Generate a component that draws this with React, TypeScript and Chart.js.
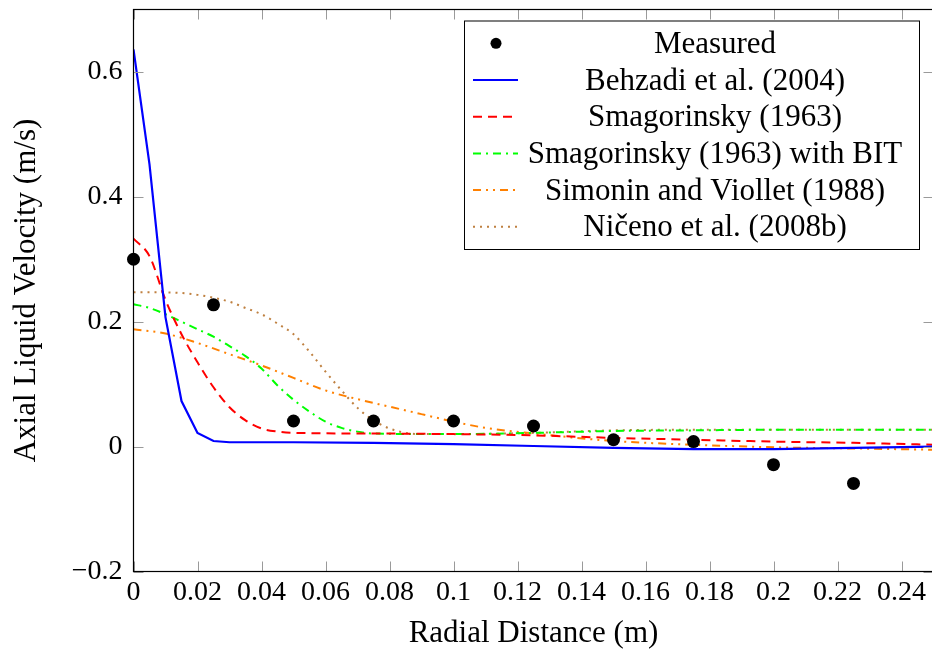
import React, { useEffect, useRef } from 'react';
import { Chart, registerables } from 'chart.js';
Chart.register(...registerables);

// ---- data ----
const measuredX = [0, 0.025, 0.05, 0.075, 0.1, 0.125, 0.15, 0.175, 0.2, 0.225];
const measuredY = [0.3, 0.227, 0.041, 0.041, 0.041, 0.033, 0.011, 0.008, -0.029, -0.059];

const behzadiX = [0, 0.005, 0.01, 0.015, 0.02, 0.025, 0.03, 0.05, 0.075, 0.1, 0.125, 0.15, 0.175, 0.2, 0.225, 0.25];
const behzadiY = [0.636, 0.452, 0.207, 0.073, 0.022, 0.009, 0.007, 0.007, 0.006, 0.004, 0.001, -0.002, -0.004, -0.004, -0.002, 0.0];

const smagX = [0, 0.005, 0.01, 0.015, 0.02, 0.025, 0.03, 0.035, 0.04, 0.045, 0.05, 0.075, 0.1, 0.125, 0.15, 0.175, 0.2, 0.225, 0.25];
const smagY = [0.333, 0.305, 0.235, 0.18, 0.135, 0.095, 0.063, 0.042, 0.029, 0.024, 0.022, 0.021, 0.02, 0.018, 0.014, 0.011, 0.008, 0.006, 0.003];

const bitX = [0, 0.005, 0.01, 0.015, 0.02, 0.025, 0.03, 0.035, 0.04, 0.045, 0.05, 0.055, 0.06, 0.065, 0.07, 0.075, 0.1, 0.125, 0.15, 0.175, 0.2, 0.225, 0.25];
const bitY = [0.228, 0.222, 0.212, 0.2, 0.188, 0.176, 0.161, 0.145, 0.125, 0.098, 0.075, 0.056, 0.04, 0.03, 0.024, 0.021, 0.02, 0.022, 0.025, 0.026, 0.027, 0.027, 0.027];

const simoninX = [0, 0.01, 0.02, 0.03, 0.04, 0.05, 0.06, 0.07, 0.08, 0.09, 0.1, 0.11, 0.125, 0.15, 0.175, 0.2, 0.225, 0.25];
const simoninY = [0.188, 0.181, 0.166, 0.148, 0.13, 0.11, 0.09, 0.076, 0.064, 0.052, 0.04, 0.03, 0.021, 0.009, 0.003, -0.001, -0.003, -0.005];

const nicenoX = [0, 0.01, 0.02, 0.03, 0.035, 0.04, 0.045, 0.05, 0.055, 0.06, 0.065, 0.07, 0.075, 0.08, 0.085, 0.09, 0.1, 0.125, 0.15, 0.175, 0.2, 0.225, 0.25];
const nicenoY = [0.247, 0.247, 0.243, 0.232, 0.222, 0.212, 0.197, 0.18, 0.152, 0.12, 0.09, 0.062, 0.042, 0.029, 0.022, 0.02, 0.02, 0.022, 0.026, 0.027, 0.027, 0.027, 0.027];

const xTickValues = [0, 0.02, 0.04, 0.06, 0.08, 0.1, 0.12, 0.14, 0.16, 0.18, 0.2, 0.22, 0.24];
const yTickValues = [-0.2, 0, 0.2, 0.4, 0.6];

const seriesLabels = [
  'Measured',
  'Behzadi et al. (2004)',
  'Smagorinsky (1963)',
  'Smagorinsky (1963) with BIT',
  'Simonin and Viollet (1988)',
  'Ničeno et al. (2008b)',
];

const xTitle = 'Radial Distance (m)';
const yTitle = 'Axial Liquid Velocity (m/s)';

// ---- styles ----
const FONT = '"Liberation Serif", "Times New Roman", serif';
const colors = ['#000000', '#0000ff', '#ff0000', '#00ff00', '#ff8000', '#bf8040'];
const dashes: number[][] = [[], [], [9, 6], [8, 5, 2, 5], [8, 5, 2, 5, 2, 5], [2, 5]];

const pts = (xs: number[], ys: number[]) => xs.map((x, i) => ({ x, y: ys[i] }));
const fmt = (v: number) => {
  const s = String(Math.round(v * 100) / 100);
  return s.replace('-', '\u2212');
};

const framePlugin = {
  id: 'frameAndLegend',
  afterDraw(chart: any) {
    const ctx = chart.ctx;
    const { left, right, top, bottom } = chart.chartArea;
    const xs = chart.scales.x;
    const ys = chart.scales.y;
    ctx.save();
    // inward ticks
    ctx.strokeStyle = '#9a9a9a';
    ctx.lineWidth = 1;
    ctx.beginPath();
    xTickValues.forEach((v) => {
      const px = Math.round(xs.getPixelForValue(v)) + 0.5;
      ctx.moveTo(px, bottom);
      ctx.lineTo(px, bottom - 10);
      ctx.moveTo(px, top);
      ctx.lineTo(px, top + 10);
    });
    yTickValues.forEach((v) => {
      const py = Math.round(ys.getPixelForValue(v)) + 0.5;
      ctx.moveTo(left, py);
      ctx.lineTo(left + 10, py);
      ctx.moveTo(right, py);
      ctx.lineTo(right - 10, py);
    });
    ctx.stroke();
    // frame
    ctx.strokeStyle = '#000';
    ctx.lineWidth = 1.2;
    ctx.strokeRect(left, top, right - left, bottom - top);

    // legend
    const bx = 464.5, by = 21, bw = 455, bh = 228.5;
    ctx.fillStyle = '#fff';
    ctx.fillRect(bx, by, bw, bh);
    ctx.strokeStyle = '#000';
    ctx.lineWidth = 1;
    ctx.strokeRect(bx, by, bw, bh);
    const rowY0 = 43.3, rowStep = 36.7;
    ctx.font = `31px ${FONT}`;
    ctx.textAlign = 'center';
    ctx.textBaseline = 'alphabetic';
    seriesLabels.forEach((lab, i) => {
      const cy = rowY0 + i * rowStep;
      if (i === 0) {
        ctx.fillStyle = '#000';
        ctx.beginPath();
        ctx.arc(496, cy, 5.5, 0, Math.PI * 2);
        ctx.fill();
      } else {
        ctx.strokeStyle = colors[i];
        ctx.lineWidth = 2;
        ctx.setLineDash(dashes[i]);
        ctx.beginPath();
        ctx.moveTo(473, cy);
        ctx.lineTo(518, cy);
        ctx.stroke();
        ctx.setLineDash([]);
      }
      ctx.fillStyle = '#000';
      ctx.fillText(lab, 715, cy + 9.5);
    });
    ctx.restore();
  },
};

export default function App() {
  const ref = useRef<HTMLCanvasElement | null>(null);
  useEffect(() => {
    if (!ref.current) return;
    const lineSeries = [
      { xs: behzadiX, ys: behzadiY },
      { xs: smagX, ys: smagY },
      { xs: bitX, ys: bitY },
      { xs: simoninX, ys: simoninY },
      { xs: nicenoX, ys: nicenoY },
    ];
    const datasets: any[] = [
      {
        label: seriesLabels[0],
        data: pts(measuredX, measuredY),
        showLine: false,
        pointRadius: 6.5,
        pointBackgroundColor: '#000',
        pointBorderWidth: 0,
        clip: false,
        order: 0,
      },
      ...lineSeries.map((s, i) => ({
        label: seriesLabels[i + 1],
        data: pts(s.xs, s.ys),
        showLine: true,
        borderColor: colors[i + 1],
        borderWidth: i === 0 ? 2.2 : 2,
        borderDash: dashes[i + 1],
        pointRadius: 0,
        fill: false,
        tension: i === 0 ? 0 : 0.3,
        cubicInterpolationMode: i === 0 ? 'default' : 'monotone',
        order: 1,
      })),
    ];
    const tickFont = { family: FONT, size: 28 };
    const titleFont = { family: FONT, size: 31 };
    const chart = new Chart(ref.current, {
      type: 'scatter',
      data: { datasets },
      options: {
        animation: false,
        responsive: false,
        devicePixelRatio: 1,
        layout: { padding: { top: 9.5, right: 4.5, left: 0, bottom: 0 } },
        plugins: { legend: { display: false }, tooltip: { enabled: false } },
        scales: {
          x: {
            type: 'linear',
            min: 0,
            max: 0.25,
            afterBuildTicks: (s: any) => {
              s.ticks = xTickValues.map((v) => ({ value: v }));
            },
            afterFit: (s: any) => {
              s.height = 78.5;
              s.paddingLeft = 0;
              s.paddingRight = 0;
              s.paddingTop = 0;
              s.paddingBottom = 0;
            },
            grid: { display: false, drawTicks: false },
            border: { display: false },
            ticks: {
              font: tickFont,
              color: '#000',
              padding: 4,
              maxRotation: 0,
              autoSkip: false,
              callback: (v: any) => fmt(Number(v)),
            },
            title: {
              display: true,
              text: xTitle,
              font: titleFont,
              color: '#000',
              padding: { top: 0, bottom: -2 },
            },
          },
          y: {
            type: 'linear',
            min: -0.2,
            max: 0.7,
            afterBuildTicks: (s: any) => {
              s.ticks = yTickValues.map((v) => ({ value: v }));
            },
            afterFit: (s: any) => {
              s.width = 133.5;
              s.paddingLeft = 0;
              s.paddingRight = 0;
              s.paddingTop = 0;
              s.paddingBottom = 0;
            },
            grid: { display: false, drawTicks: false },
            border: { display: false },
            ticks: {
              font: tickFont,
              color: '#000',
              padding: 11,
              autoSkip: false,
              callback: (v: any) => fmt(Number(v)),
            },
            title: {
              display: true,
              text: yTitle,
              font: titleFont,
              color: '#000',
              padding: { top: 8, bottom: 0 },
            },
          },
        },
      } as any,
      plugins: [framePlugin],
    });
    return () => chart.destroy();
  }, []);
  return (
    <div
      style={{
        position: 'absolute',
        left: 0,
        top: 0,
        width: 932,
        height: 650,
        overflow: 'hidden',
        background: '#fff',
      }}
    >
      <canvas ref={ref} width={940} height={650} style={{ display: 'block' }} />
    </div>
  );
}
